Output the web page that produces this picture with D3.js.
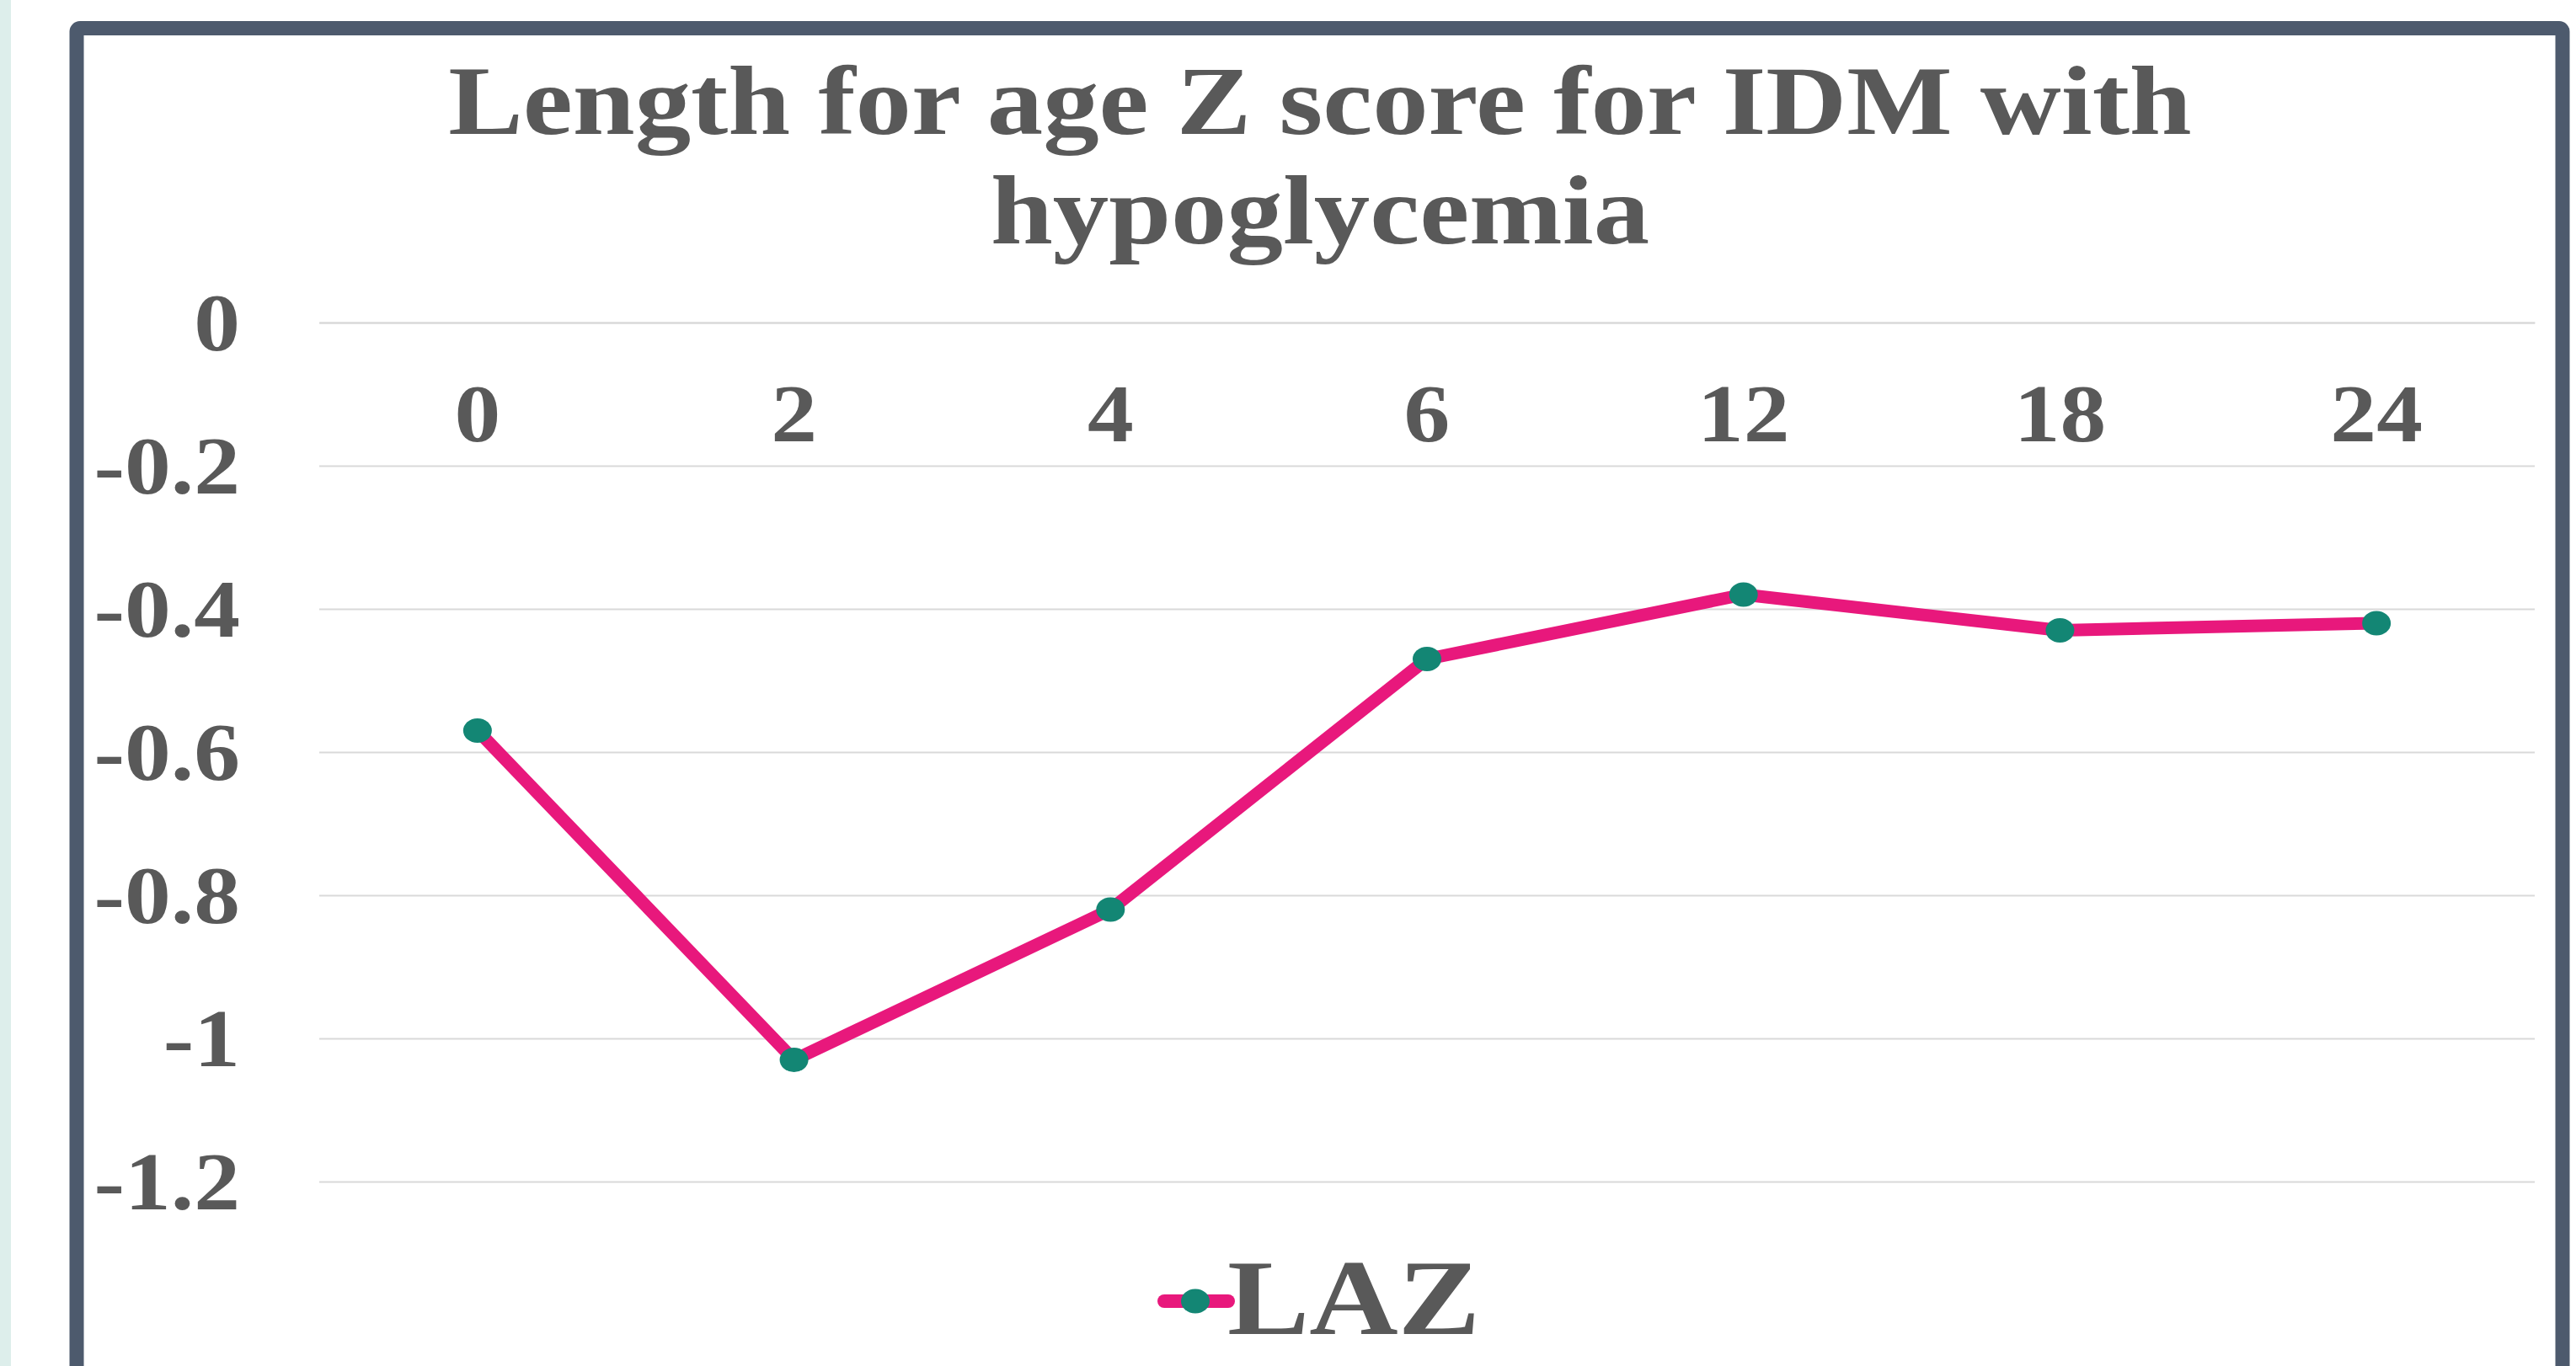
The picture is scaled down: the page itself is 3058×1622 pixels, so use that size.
<!DOCTYPE html>
<html>
<head>
<meta charset="utf-8">
<script src="https://cdn.jsdelivr.net/npm/d3@7"></script>
<style>
  html, body { margin: 0; padding: 0; background: #ffffff; overflow: hidden; }
  svg { display: block; }
</style>
</head>
<body>
<svg id="chart" width="3058" height="1622"></svg>
<script>
// chart data
var months = ["0", "2", "4", "6", "12", "18", "24"];
var lazValues = [-0.57, -1.03, -0.82, -0.47, -0.38, -0.43, -0.42];
var yTicks = [0, -0.2, -0.4, -0.6, -0.8, -1, -1.2];
var titleLines = ["Length for age Z score for IDM with", "hypoglycemia"];
var seriesName = "LAZ";

var textColor = "#595959";
var lineColor = "#e8187c";
var markerColor = "#138674";
var gridColor = "#d9d9d9";
var serif = "'Liberation Serif', 'Times New Roman', serif";
var stretch = 1.13; // the original picture is a bit wider than tall

var svg = d3.select("#chart");

var plotLeft = 379, plotRight = 3009;
var plotTop = 383, plotBottom = 1403;

// light strip on the far left and the dark frame
svg.append("rect")
    .attr("x", 0).attr("y", 0)
    .attr("width", 13).attr("height", 1622)
    .attr("fill", "#ddeeeb");
svg.append("rect")
    .attr("x", 91).attr("y", 33.5)
    .attr("width", 2951).attr("height", 2000)
    .attr("rx", 4)
    .attr("fill", "#ffffff")
    .attr("stroke", "#4d5a6d")
    .attr("stroke-width", 17);

var x = d3.scalePoint()
    .domain(months)
    .range([plotLeft, plotRight])
    .padding(0.5);
var y = d3.scaleLinear()
    .domain([-1.2, 0])
    .range([plotBottom, plotTop]);

// gridlines
var grid = d3.axisLeft(y)
    .tickValues(yTicks)
    .tickSize(-(plotRight - plotLeft))
    .tickFormat("");
svg.append("g")
    .attr("transform", "translate(" + plotLeft + ",0)")
    .call(grid)
    .call(function(g) { g.select(".domain").remove(); })
    .selectAll("line")
    .attr("stroke", gridColor)
    .attr("stroke-width", 2);

// y labels
var yAxis = d3.axisLeft(y)
    .tickValues(yTicks)
    .tickSize(0)
    .tickPadding(0)
    .tickFormat(function(d) { return d3.format("")(d).replace("−", "-"); });
var yg = svg.append("g")
    .attr("transform", "translate(285,0)")
    .call(yAxis);
yg.select(".domain").remove();
yg.selectAll("text")
    .attr("x", 0)
    .attr("dy", "0.33em")
    .attr("transform", "scale(" + stretch + ",1)")
    .attr("fill", textColor)
    .style("font-family", serif)
    .style("font-weight", "bold")
    .style("font-size", "97px");

// x labels, under the zero line
var xAxis = d3.axisBottom(x)
    .tickSize(0)
    .tickPadding(72);
var xg = svg.append("g")
    .attr("transform", "translate(0," + y(0) + ")")
    .call(xAxis);
xg.select(".domain")
    .attr("stroke", gridColor)
    .attr("stroke-width", 2);
xg.selectAll("text")
    .attr("transform", "scale(" + stretch + ",1)")
    .attr("fill", textColor)
    .style("font-family", serif)
    .style("font-weight", "bold")
    .style("font-size", "97px");
xg.selectAll(".tick")
    .attr("transform", function(d) { return "translate(" + x(d) + ",0)"; });

// series line and markers
var points = months.map(function(m, i) { return {month: m, value: lazValues[i]}; });
var line = d3.line()
    .x(function(d) { return x(d.month); })
    .y(function(d) { return y(d.value); });
svg.append("path")
    .datum(points)
    .attr("d", line)
    .attr("fill", "none")
    .attr("stroke", lineColor)
    .attr("stroke-width", 15)
    .attr("stroke-linejoin", "round")
    .attr("stroke-linecap", "round");
svg.selectAll(".marker")
    .data(points)
    .enter().append("ellipse")
    .attr("class", "marker")
    .attr("cx", function(d) { return x(d.month); })
    .attr("cy", function(d) { return y(d.value); })
    .attr("rx", 17)
    .attr("ry", 14.5)
    .attr("fill", markerColor);

// title
var titleBase = [159, 289];
svg.selectAll(".title")
    .data(titleLines)
    .enter().append("text")
    .attr("class", "title")
    .attr("transform", function(d, i) {
        return "translate(1567," + titleBase[i] + ") scale(1.145,1)";
    })
    .attr("text-anchor", "middle")
    .attr("fill", textColor)
    .style("font-family", serif)
    .style("font-weight", "bold")
    .style("font-size", "116px")
    .text(function(d) { return d; });

// legend
var legend = svg.append("g");
legend.append("line")
    .attr("x1", 1382).attr("x2", 1458)
    .attr("y1", 1545).attr("y2", 1545)
    .attr("stroke", lineColor)
    .attr("stroke-width", 16)
    .attr("stroke-linecap", "round");
legend.append("ellipse")
    .attr("cx", 1419).attr("cy", 1545)
    .attr("rx", 17).attr("ry", 14.5)
    .attr("fill", markerColor);
legend.append("text")
    .attr("transform", "translate(1457,1584) scale(1.14,1)")
    .attr("fill", textColor)
    .style("font-family", serif)
    .style("font-weight", "bold")
    .style("font-size", "128px")
    .text(seriesName);
</script>
</body>
</html>
